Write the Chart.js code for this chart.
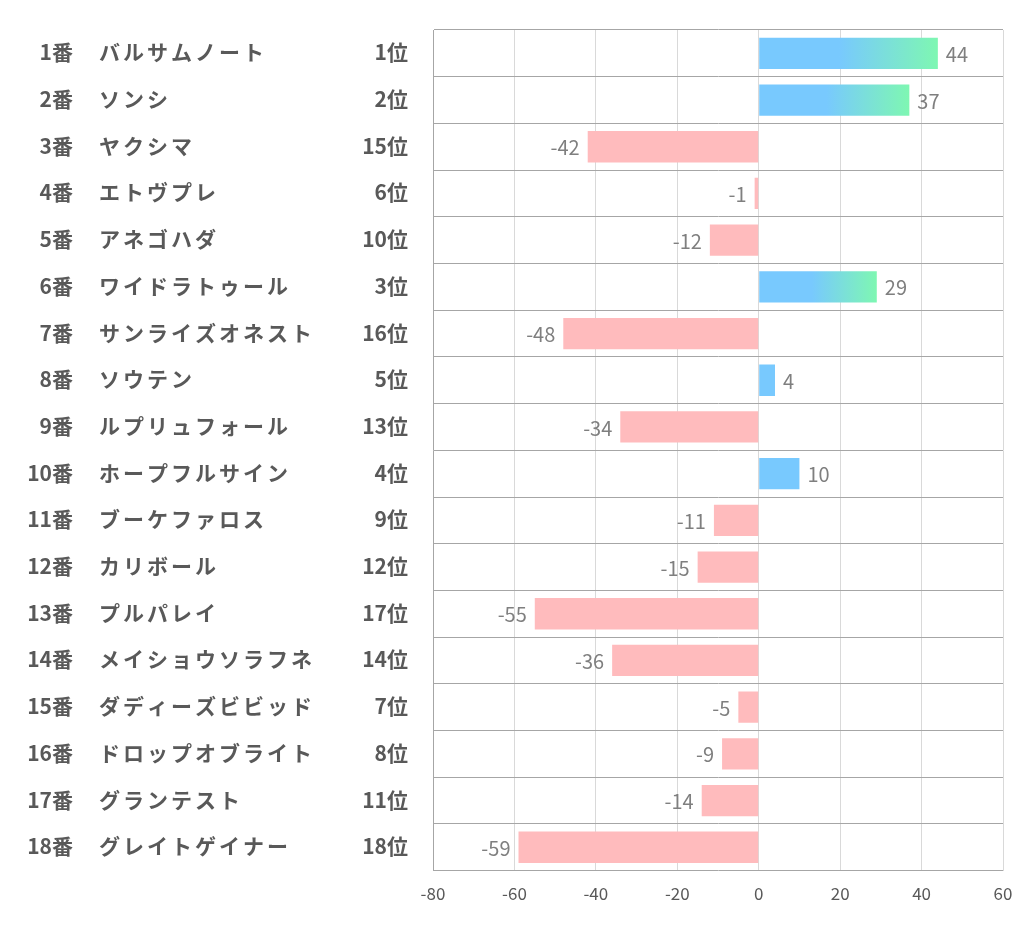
<!DOCTYPE html>
<html>
<head>
<meta charset="utf-8">
<script src="https://cdn.jsdelivr.net/npm/chart.js@4"></script>
<style>
  body { margin: 0; background: #fff; }
  canvas { display: block; }
</style>
</head>
<body>
<canvas id="barChart" width="1022" height="939"></canvas>
<script>
// data
const horseNos = ['1番', '2番', '3番', '4番', '5番', '6番', '7番', '8番', '9番',
  '10番', '11番', '12番', '13番', '14番', '15番', '16番', '17番', '18番'];
const horseNames = ['バルサムノート', 'ソンシ', 'ヤクシマ', 'エトヴプレ', 'アネゴハダ',
  'ワイドラトゥール', 'サンライズオネスト', 'ソウテン', 'ルプリュフォール', 'ホープフルサイン',
  'ブーケファロス', 'カリボール', 'プルパレイ', 'メイショウソラフネ', 'ダディーズビビッド',
  'ドロップオブライト', 'グランテスト', 'グレイトゲイナー'];
const ranks = [1, 2, 15, 6, 10, 3, 16, 5, 13, 4, 9, 12, 17, 14, 7, 8, 11, 18];
const scores = [44, 37, -42, -1, -12, 29, -48, 4, -34, 10, -11, -15, -55, -36, -5, -9, -14, -59];
const xTicks = [-80, -60, -40, -20, 0, 20, 40, 60];

const BLUE = '#78c9fe';
const GREEN = '#7ef7b2';
const PINK = '#ffbbbd';
const FONT = '"Noto Sans CJK JP", "Noto Sans", sans-serif';

function barColor(ctx) {
  const v = ctx.raw;
  if (v < 0) return PINK;
  const rank = ranks[ctx.dataIndex];
  const chart = ctx.chart;
  if (rank > 3 || !chart.chartArea) return BLUE;
  const x = chart.scales.x;
  const x0 = x.getPixelForValue(0);
  const x1 = x.getPixelForValue(v);
  const g = chart.ctx.createLinearGradient(x0, 0, x1, 0);
  g.addColorStop(0, BLUE);
  g.addColorStop(0.45, BLUE);
  g.addColorStop(1, GREEN);
  return g;
}

// left-hand table: number, name, finishing rank
const rowLabels = {
  id: 'rowLabels',
  afterDraw(chart) {
    const c = chart.ctx;
    const y = chart.scales.y;
    c.save();
    c.fillStyle = '#595959';
    c.font = 'bold 21px ' + FONT;
    c.textBaseline = 'middle';
    horseNos.forEach((no, i) => {
      const py = y.getPixelForValue(i) - 1;
      c.letterSpacing = '0px';
      c.textAlign = 'right';
      c.fillText(no, 73, py);
      c.fillText(ranks[i] + '位', 408, py);
      c.textAlign = 'left';
      c.letterSpacing = '3px';
      c.fillText(horseNames[i], 99, py);
    });
    c.restore();
  }
};

const valueLabels = {
  id: 'valueLabels',
  afterDatasetsDraw(chart) {
    const c = chart.ctx;
    const meta = chart.getDatasetMeta(0);
    c.save();
    c.fillStyle = '#7f7f7f';
    c.font = '20px ' + FONT;
    c.textBaseline = 'middle';
    meta.data.forEach((bar, i) => {
      const v = scores[i];
      if (v < 0) {
        c.textAlign = 'right';
        c.fillText(String(v), bar.x - 8, bar.y + 1);
      } else {
        c.textAlign = 'left';
        c.fillText(String(v), bar.x + 8, bar.y + 1);
      }
    });
    c.restore();
  }
};

new Chart(document.getElementById('barChart'), {
  type: 'bar',
  data: {
    labels: horseNos,
    datasets: [{
      data: scores,
      backgroundColor: barColor,
      borderWidth: 0,
      barPercentage: 0.67,
      categoryPercentage: 1
    }]
  },
  options: {
    indexAxis: 'y',
    responsive: false,
    animation: false,
    layout: { padding: { left: 433, top: 30, right: 19, bottom: 22 } },
    plugins: { legend: { display: false }, tooltip: { enabled: false } },
    scales: {
      x: {
        min: -80,
        max: 60,
        afterBuildTicks(scale) { scale.ticks = xTicks.map(v => ({ value: v })); },
        afterFit(scale) { scale.paddingLeft = 0; scale.paddingRight = 0; },
        grid: { color: '#d9d9d9', drawTicks: false },
        border: { display: false },
        ticks: { color: '#595959', font: { family: FONT, size: 17 }, padding: 13 }
      },
      y: {
        grid: { color: '#a6a6a6', drawTicks: false, offset: true },
        border: { color: '#a6a6a6' },
        ticks: { display: false }
      }
    }
  },
  plugins: [rowLabels, valueLabels]
});
</script>
</body>
</html>
